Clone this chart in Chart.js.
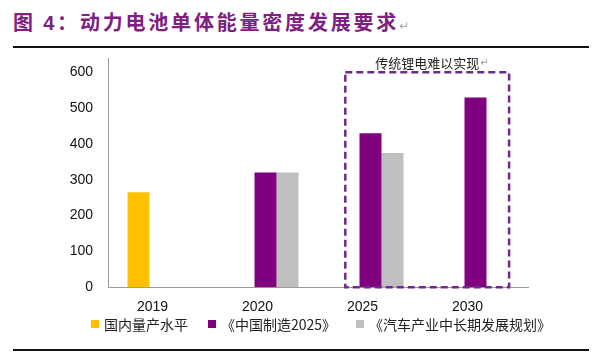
<!DOCTYPE html>
<html>
<head>
<meta charset="utf-8">
<script src="https://cdn.jsdelivr.net/npm/chart.js@4.4.1/dist/chart.umd.min.js"></script>
<style>
    html, body { margin: 0; padding: 0; background: #fff; }
    body { width: 600px; height: 352px; position: relative; overflow: hidden; }
    #title {
        position: absolute; left: 13px; top: 7px;
        font-family: "Noto Sans CJK SC", sans-serif; font-size: 20px; font-weight: 700;
        color: #7d2080; letter-spacing: 2.8px; white-space: nowrap;
    }
    #title .num { font-family: "Liberation Sans", Arial, sans-serif; font-weight: 700; }
    #title .ret { color: #aaa; font-size: 12px; font-weight: 400; letter-spacing: 0; }
    .rule { position: absolute; left: 13px; width: 576px; height: 2px; background: #111; }
    #chartBox { position: absolute; left: 0; top: 0; width: 600px; height: 352px; }
    #legend {
        position: absolute; left: 91px; top: 314px; display: flex; align-items: center;
        font-family: "Noto Sans CJK SC", sans-serif; font-size: 14px; color: #222; white-space: nowrap;
    }
    #legend .item { display: flex; align-items: center; margin-right: 20px; }
    #legend .box { width: 8px; height: 8px; margin-right: 5px; }
</style>
</head>
<body>
<div id="title">图 <span class="num">4</span>：动力电池单体能量密度发展要求<span class="ret">↵</span></div>
<div class="rule" style="top:46px"></div>
<div class="rule" style="top:349px"></div>
<div id="chartBox"><canvas id="energyChart"></canvas></div>
<div id="legend"></div>

<script>
// Data (Wh/kg)
const years = ['2019', '2020', '2025', '2030'];
const domesticLevel = [265, null, null, null];      // 国内量产水平
const madeInChina2025 = [null, 320, 430, 530];      // 《中国制造2025》
const autoIndustryPlan = [null, 320, 375, null];    // 《汽车产业中长期发展规划》
const yTicks = [0, 100, 200, 300, 400, 500, 600];
const noteText = '传统锂电难以实现';

// Dashed frame round the 2025-2030 targets
const hardZonePlugin = {
    id: 'hardZone',
    afterDatasetsDraw(chart) {
        const { ctx, scales: { x, y } } = chart;
        const catW = x.getPixelForValue(1) - x.getPixelForValue(0);
        const left = x.getPixelForValue(2) - 0.24 * catW;
        const right = x.getPixelForValue(3) + 0.32 * catW;
        const top = y.getPixelForValue(600);
        const bottom = y.getPixelForValue(0);
        ctx.save();
        ctx.strokeStyle = '#6e2a8a';
        ctx.lineWidth = 2.5;
        ctx.setLineDash([7, 4]);
        ctx.strokeRect(left, top, right - left, bottom - top);
        ctx.setLineDash([]);
        ctx.font = '13px "Noto Sans CJK SC", sans-serif';
        ctx.fillStyle = '#222';
        ctx.textAlign = 'center';
        ctx.textBaseline = 'middle';
        const cx = (left + right) / 2;
        ctx.fillText(noteText, cx, top - 9);
        const tw = ctx.measureText(noteText).width;
        ctx.fillStyle = '#999';
        ctx.font = '10px "DejaVu Sans", sans-serif';
        ctx.textAlign = 'left';
        ctx.fillText('↵', cx + tw / 2 + 1, top - 9);
        ctx.restore();
    }
};

const ctx = document.getElementById('energyChart').getContext('2d');
const chart = new Chart(ctx, {
    type: 'bar',
    data: {
        labels: years,
        datasets: [
            {
                label: '国内量产水平',
                data: domesticLevel,
                backgroundColor: '#ffc000'
            },
            {
                label: '《中国制造2025》',
                data: madeInChina2025,
                backgroundColor: '#800080'
            },
            {
                label: '《汽车产业中长期发展规划》',
                data: autoIndustryPlan,
                backgroundColor: '#bfbfbf'
            }
        ]
    },
    options: {
        responsive: true,
        maintainAspectRatio: false,
        animation: false,
        layout: {
            padding: { top: 58, left: 46, right: 0, bottom: 24 }
        },
        datasets: {
            bar: { categoryPercentage: 66 / 105, barPercentage: 1 }
        },
        plugins: {
            title: { display: false },
            tooltip: { enabled: false },
            legend: { display: false }
        },
        scales: {
            x: {
                grid: { display: false, drawTicks: false },
                border: { color: '#9a9a9a' },
                ticks: {
                    color: '#111',
                    padding: 12,
                    labelOffset: -8,
                    font: { family: '"Liberation Sans", Arial, sans-serif', size: 14 }
                }
            },
            y: {
                min: 0,
                max: 640,
                grid: { display: false, drawTicks: false },
                border: { color: '#9a9a9a' },
                afterBuildTicks(scale) {
                    scale.ticks = yTicks.map(v => ({ value: v }));
                },
                ticks: {
                    color: '#111',
                    padding: 15,
                    font: { family: '"Liberation Sans", Arial, sans-serif', size: 14 }
                },
                afterFit(scale) { scale.width = 62; }
            },
            // empty right-hand spacer so the plot ends where the reference's does
            spacer: {
                type: 'linear',
                position: 'right',
                grid: { display: false, drawTicks: false },
                border: { display: false },
                ticks: { display: false },
                afterFit(scale) { scale.width = 72; }
            }
        }
    },
    plugins: [hardZonePlugin]
});

// Legend built from the chart's own datasets
const legendEl = document.getElementById('legend');
chart.data.datasets.forEach(ds => {
    const item = document.createElement('span');
    item.className = 'item';
    item.innerHTML = `<span class="box" style="background:${ds.backgroundColor}"></span>${ds.label}`;
    legendEl.appendChild(item);
});
</script>
</body>
</html>
